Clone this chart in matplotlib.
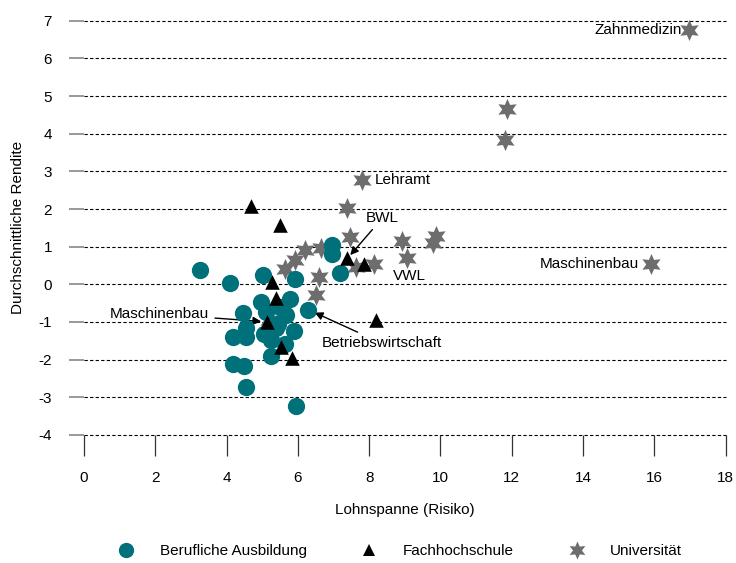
import matplotlib.pyplot as plt
from matplotlib.lines import Line2D

plt.rcParams['font.family'] = ['Liberation Sans', 'DejaVu Sans']

# Berufliche Ausbildung
ba_x = [3.25, 4.09, 5.01, 5.91, 6.95, 6.97, 7.17, 6.28, 4.98, 5.77, 5.49, 5.10,
        4.46, 5.68, 4.54, 4.18, 4.56, 5.04, 5.39, 5.43, 5.88, 5.26, 5.63, 5.26,
        4.18, 4.48, 4.56, 5.94]
ba_y = [0.38, 0.03, 0.25, 0.14, 1.04, 0.80, 0.30, -0.68, -0.46, -0.39, -0.59, -0.73,
        -0.77, -0.82, -1.17, -1.39, -1.39, -1.32, -1.17, -1.04, -1.23, -1.47, -1.58, -1.90,
        -2.12, -2.17, -2.72, -3.23]

# Fachhochschule
fh_x = [4.68, 5.49, 5.28, 5.38, 7.38, 7.85, 5.14, 8.18, 5.85, 5.54]
fh_y = [2.08, 1.57, 0.07, -0.35, 0.69, 0.53, -0.99, -0.95, -1.96, -1.66]

# Universität
uni_x = [16.97, 11.88, 11.82, 7.79, 7.37, 15.91, 9.88, 9.78, 8.93, 9.05, 7.45,
         6.19, 6.66, 5.91, 5.63, 6.59, 6.52, 8.15, 7.62, 5.2]
uni_y = [6.75, 4.65, 3.83, 2.77, 2.03, 0.54, 1.28, 1.09, 1.15, 0.69, 1.26,
         0.91, 0.96, 0.65, 0.42, 0.20, -0.28, 0.53, 0.47, -0.95]

x_ticks = [0, 2, 4, 6, 8, 10, 12, 14, 16, 18]
y_ticks = [-4, -3, -2, -1, 0, 1, 2, 3, 4, 5, 6, 7]

teal = '#00717a'
grey = '#6d6d6d'
fs = 11

fig = plt.figure(figsize=(7.36, 5.63), dpi=100)
ax = fig.add_axes([0.114, 0.2274, 0.872, 0.7358])

ax.scatter(uni_x, uni_y, marker=(6, 1, 0), s=230, color=grey, zorder=3, clip_on=False,
           linewidths=0)
ax.scatter(ba_x, ba_y, marker='o', s=155, color=teal, zorder=4, clip_on=False,
           linewidths=0)
ax.scatter(fh_x, fh_y, marker='^', s=110, color='black', zorder=5, clip_on=False,
           linewidths=0)

ax.set_xlim(0, 18)
ax.set_ylim(-4, 7)
ax.set_xticks(x_ticks)
ax.set_yticks(y_ticks)
ax.set_xticklabels([str(t) for t in x_ticks])
ax.set_yticklabels([str(t) for t in y_ticks])

for s in ax.spines.values():
    s.set_visible(False)
for y in y_ticks:
    ax.axhline(y, color='black', lw=0.8, ls=(0, (3, 2)), zorder=1, clip_on=False)

ax.tick_params(axis='x', direction='out', length=15, width=0.9, color='#333333',
               pad=11, labelsize=fs)
ax.tick_params(axis='y', direction='out', length=11, width=1.2, color='#888888',
               pad=12, labelsize=fs)

ax.set_xlabel('Lohnspanne (Risiko)', fontsize=fs, labelpad=13)
ax.set_ylabel('Durchschnittliche Rendite', fontsize=fs, labelpad=10)

arrow = dict(arrowstyle='-|>', color='black', lw=1, mutation_scale=12, shrinkA=2, shrinkB=2)
ax.text(16.78, 6.75, 'Zahnmedizin', ha='right', va='center', fontsize=fs)
ax.text(8.15, 2.77, 'Lehramt', ha='left', va='center', fontsize=fs)
ax.text(9.13, 0.22, 'VWL', ha='center', va='center', fontsize=fs)
ax.text(15.57, 0.54, 'Maschinenbau', ha='right', va='center', fontsize=fs)
ax.annotate('BWL', xy=(7.42, 0.72), xytext=(8.38, 1.77), ha='center', va='center',
            fontsize=fs, arrowprops=arrow)
ax.annotate('Maschinenbau', xy=(5.05, -0.99), xytext=(2.13, -0.79), ha='center',
            va='center', fontsize=fs, arrowprops=arrow)
ax.annotate('Betriebswirtschaft', xy=(6.4, -0.72), xytext=(8.35, -1.56), ha='center',
            va='center', fontsize=fs, arrowprops=arrow)

handles = [
    Line2D([], [], marker='o', ls='', color=teal, markersize=11, markeredgewidth=0),
    Line2D([], [], marker='^', ls='', color='black', markersize=9, markeredgewidth=0),
    Line2D([], [], marker=(6, 1, 0), ls='', color=grey, markersize=13, markeredgewidth=0),
]
labels = ['Berufliche Ausbildung', 'Fachhochschule', 'Universität']
fig.legend(handles, labels, loc='center', bbox_to_anchor=(0.543, 0.021), ncol=3,
           frameon=False, fontsize=fs, columnspacing=3.5, handlelength=1.2,
           handletextpad=1.6)

fig.savefig('out.png', dpi=100)
